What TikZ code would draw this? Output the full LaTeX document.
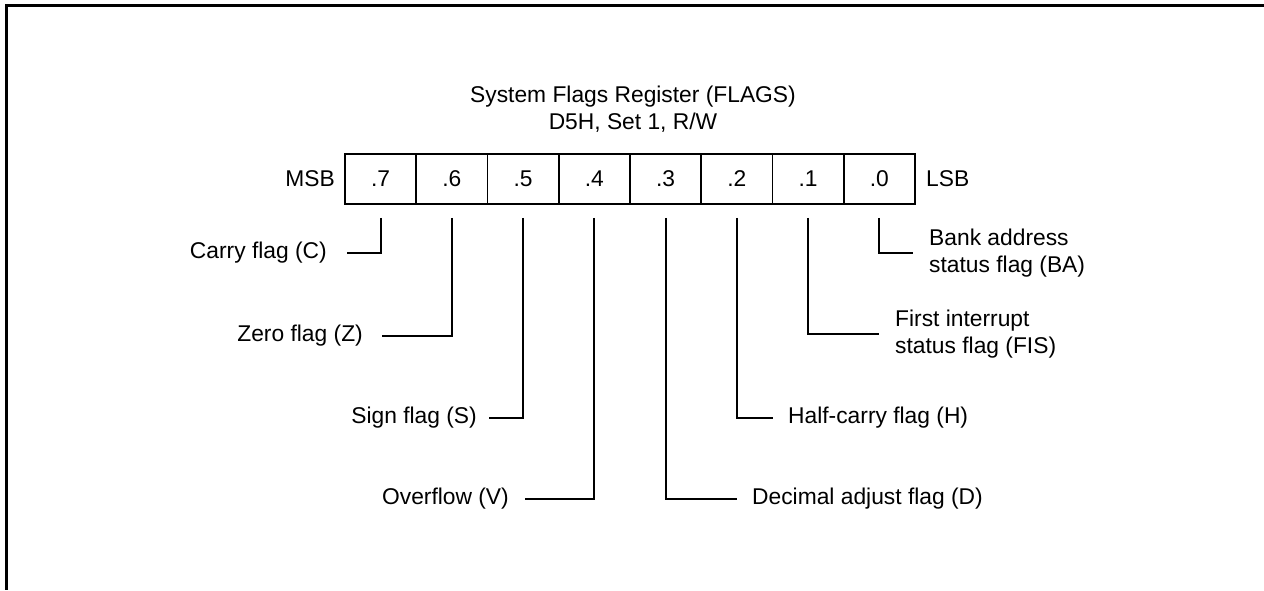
\documentclass[tikz,border=0pt]{standalone}
\usepackage{fontspec}
\setmainfont{Liberation Sans}
\usetikzlibrary{calc}
\begin{document}
\begin{tikzpicture}[x=1pt,y=-1pt,
  every node/.style={font=\fontsize{22.8}{27}\selectfont},
  cell/.style={draw, line width=1.8pt, minimum width=71.25pt, minimum height=50pt, inner sep=0pt},
  lead/.style={line width=1.8pt},
  lbl/.style={inner sep=0pt},
  frame/.style={line width=3pt}]
\useasboundingbox (0,0) rectangle (1264,590);
\draw[frame] (1264,5) -- (6,5) -- (6,590);

\node[align=center, inner sep=0pt] (title) at (633,109) {System Flags Register (FLAGS)\\D5H, Set 1, R/W};

\foreach \b [count=\k from 0] in {7,6,5,4,3,2,1,0}
  \node[cell] (c\b) at ({345+71.25*(\k+0.5)},179) {.\b};

\node[lbl, anchor=east] (msb) at (335,179) {MSB};
\node[lbl, anchor=west] (lsb) at (926,179) {LSB};

\node[lbl, anchor=east] (carry) at (327,253) {Carry flag (C)};
\node[lbl, anchor=east] (zero) at (363,336) {Zero flag (Z)};
\node[lbl, anchor=east] (sign) at (477,418) {Sign flag (S)};
\node[lbl, anchor=east] (ovf) at (509,499) {Overflow (V)};
\node[lbl, anchor=west] (dec) at (752,499) {Decimal adjust flag (D)};
\node[lbl, anchor=west] (half) at (788,418) {Half-carry flag (H)};
\node[lbl, anchor=west, align=left] (fis) at (895,334) {First interrupt\\status flag (FIS)};
\node[lbl, anchor=west, align=left] (ba) at (929,253) {Bank address\\status flag (BA)};

\draw[lead] ($(c7.south)+(0,13)$) |- ([xshift=20pt]carry.east);
\draw[lead] ($(c6.south)+(0,13)$) |- ([xshift=19pt]zero.east);
\draw[lead] ($(c5.south)+(0,13)$) |- ([xshift=12pt]sign.east);
\draw[lead] ($(c4.south)+(0,13)$) |- ([xshift=16pt]ovf.east);
\draw[lead] ($(c3.south)+(0,13)$) |- ([xshift=-15pt]dec.west);
\draw[lead] ($(c2.south)+(0,13)$) |- ([xshift=-15pt]half.west);
\draw[lead] ($(c1.south)+(0,13)$) |- ([xshift=-16pt]fis.west);
\draw[lead] ($(c0.south)+(0,13)$) |- ([xshift=-16pt]ba.west);
\end{tikzpicture}
\end{document}
